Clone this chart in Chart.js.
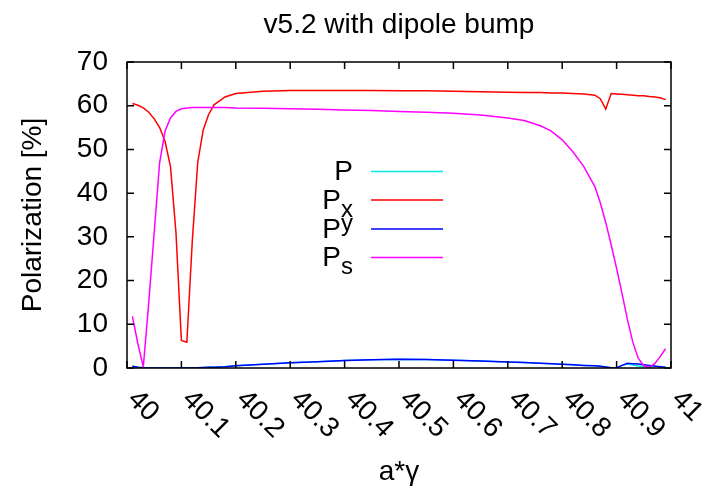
<!DOCTYPE html>
<html>
<head>
<meta charset="utf-8">
<script src="https://cdn.jsdelivr.net/npm/chart.js@4.4.1/dist/chart.umd.min.js"></script>
<style>
  html, body { margin: 0; padding: 0; background: #ffffff; }
  #grafica { display: block; }
</style>
</head>
<body>
<canvas id="grafica" width="702" height="490"></canvas>
<script>
const aGamma = [40.01, 40.02, 40.03, 40.04, 40.05, 40.06, 40.07, 40.08, 40.09, 40.10,
  40.11, 40.12, 40.13, 40.14, 40.15, 40.16, 40.18, 40.20, 40.25, 40.30,
  40.35, 40.40, 40.45, 40.50, 40.55, 40.60, 40.65, 40.70, 40.73, 40.76,
  40.78, 40.80, 40.82, 40.84, 40.86, 40.87, 40.88, 40.89, 40.90, 40.91,
  40.92, 40.93, 40.94, 40.95, 40.96, 40.97, 40.98, 40.99];

const polP = [0.4, 0.2, 0.05, 0, 0, 0, 0, 0, 0, 0,
  0.02, 0.04, 0.06, 0.1, 0.15, 0.2, 0.3, 0.5, 0.85, 1.2,
  1.45, 1.7, 1.9, 2.0, 1.95, 1.8, 1.6, 1.4, 1.25, 1.1,
  1.0, 0.85, 0.75, 0.6, 0.5, 0.4, 0.25, 0.05, 0.0, 0.6,
  0.9, 0.7, 0.45, 0.3, 0.35, 0.35, 0.25, 0.15];

const polPx = [60.5, 60.1, 59.5, 58.5, 57.0, 55.0, 51.8, 46.0, 31.0, 6.3,
  5.9, 29.0, 47.0, 54.4, 58.0, 60.2, 62.0, 62.8, 63.3, 63.5,
  63.5, 63.5, 63.5, 63.4, 63.4, 63.3, 63.2, 63.1, 63.0, 63.0,
  62.9, 62.9, 62.8, 62.7, 62.4, 61.6, 59.2, 62.8, 62.7, 62.6,
  62.5, 62.4, 62.3, 62.3, 62.1, 62.0, 61.8, 61.4];

const polPy = [0.4, 0.2, 0.05, 0, 0, 0, 0, 0, 0, 0,
  0.02, 0.04, 0.06, 0.1, 0.15, 0.2, 0.3, 0.5, 0.85, 1.2,
  1.45, 1.7, 1.9, 2.0, 1.95, 1.8, 1.6, 1.4, 1.25, 1.1,
  1.0, 0.85, 0.75, 0.6, 0.5, 0.4, 0.25, 0.05, 0.0, 0.6,
  1.1, 1.0, 0.9, 0.75, 0.6, 0.45, 0.3, 0.15];

const polPs = [11.8, 5.5, 0.3, 15.0, 31.0, 47.0, 54.2, 57.2, 58.7, 59.3,
  59.5, 59.6, 59.6, 59.6, 59.6, 59.6, 59.6, 59.5, 59.4, 59.3,
  59.2, 59.0, 58.9, 58.7, 58.5, 58.3, 57.9, 57.2, 56.6, 55.4,
  54.2, 52.2, 49.4, 46.0, 41.5, 37.8, 33.3, 28.2, 22.8, 17.0,
  11.0, 5.8, 2.2, 0.5, 0.1, 1.0, 2.6, 4.4];

const xTickValues = [40, 40.1, 40.2, 40.3, 40.4, 40.5, 40.6, 40.7, 40.8, 40.9, 41];
const xTickLabels = ['40', '40.1', '40.2', '40.3', '40.4', '40.5', '40.6', '40.7', '40.8', '40.9', '41'];
const yTickValues = [0, 10, 20, 30, 40, 50, 60, 70];

// legend text: main letter + index, index shifted up (-) or down (+)
const legendNames = [
  { main: 'P', sub: '', shift: 0 },
  { main: 'P', sub: 'x', shift: 6 },
  { main: 'P', sub: 'y', shift: -9 },
  { main: 'P', sub: 's', shift: 6 }
];

const FONT = '"Liberation Sans", Arial, sans-serif';
const graphic = document.getElementById('grafica');

function toPoints(values) {
  return values.map((v, i) => ({ x: aGamma[i], y: v }));
}

function makeSet(label, values, color, order) {
  return {
    label: label,
    data: toPoints(values),
    borderColor: color,
    borderWidth: 1.5,
    pointRadius: 0,
    fill: false,
    tension: 0,
    order: order
  };
}

// frame, inward ticks, rotated x labels, titles, legend
const gnuplotLook = {
  id: 'gnuplotLook',
  afterDraw(chart) {
    const ctx = chart.ctx;
    const area = chart.chartArea;
    const xs = chart.scales.x;
    const ys = chart.scales.y;
    const tick = 7;
    ctx.save();
    ctx.strokeStyle = '#000000';
    ctx.lineWidth = 1.5;
    ctx.strokeRect(area.left, area.top, area.right - area.left, area.bottom - area.top);
    ctx.beginPath();
    xTickValues.forEach(v => {
      const px = xs.getPixelForValue(v);
      ctx.moveTo(px, area.bottom); ctx.lineTo(px, area.bottom - tick);
      ctx.moveTo(px, area.top); ctx.lineTo(px, area.top + tick);
    });
    yTickValues.forEach(v => {
      const py = ys.getPixelForValue(v);
      ctx.moveTo(area.left, py); ctx.lineTo(area.left + tick, py);
      ctx.moveTo(area.right, py); ctx.lineTo(area.right - tick, py);
    });
    ctx.stroke();

    ctx.fillStyle = '#000000';
    ctx.font = '28px ' + FONT;
    // x tick labels rotated -45 (reading down to the right)
    xTickValues.forEach((v, i) => {
      const px = xs.getPixelForValue(v);
      ctx.save();
      ctx.translate(px + 5, area.bottom + 27);
      ctx.rotate(Math.PI / 4);
      ctx.textAlign = 'left';
      ctx.textBaseline = 'middle';
      ctx.fillText(xTickLabels[i], 0, 0);
      ctx.restore();
    });

    const midX = (area.left + area.right) / 2;
    const midY = (area.top + area.bottom) / 2;
    ctx.textAlign = 'center';
    ctx.textBaseline = 'alphabetic';
    ctx.fillText('v5.2 with dipole bump', midX, 33);
    ctx.fillText('a*\u03b3', midX, 480);
    ctx.save();
    ctx.translate(41, midY);
    ctx.rotate(-Math.PI / 2);
    ctx.fillText('Polarization [%]', 0, 0);
    ctx.restore();

    // legend
    const rows = [171.5, 200, 229, 257.5];
    chart.data.datasets.forEach((ds, i) => {
      const name = legendNames[i];
      const y = rows[i];
      const right = 353;
      ctx.textAlign = 'right';
      ctx.textBaseline = 'middle';
      let mainRight = right;
      if (name.sub) {
        ctx.font = '24px ' + FONT;
        ctx.fillText(name.sub, right, y + name.shift + 4);
        mainRight = right - ctx.measureText(name.sub).width;
      }
      ctx.font = '28px ' + FONT;
      ctx.fillText(name.main, mainRight, y + 1);
      ctx.strokeStyle = ds.borderColor;
      ctx.lineWidth = 1.5;
      ctx.beginPath();
      ctx.moveTo(371, y);
      ctx.lineTo(443, y);
      ctx.stroke();
    });
    ctx.restore();
  }
};

const chart = new Chart(graphic, {
  type: 'line',
  data: {
    datasets: [
      makeSet('P', polP, '#00e8e8', 4),
      makeSet('Px', polPx, '#ff0000', 3),
      makeSet('Py', polPy, '#0000ff', 2),
      makeSet('Ps', polPs, '#ff00ff', 1)
    ]
  },
  options: {
    responsive: false,
    devicePixelRatio: 1,
    animation: false,
    layout: { padding: { left: 0, top: 62, right: 31, bottom: 0 } },
    plugins: {
      legend: { display: false },
      tooltip: { enabled: false },
      title: { display: false }
    },
    scales: {
      x: {
        type: 'linear',
        min: 40,
        max: 41,
        grid: { display: false, drawTicks: false },
        border: { display: false },
        ticks: { display: false, stepSize: 0.1 },
        afterFit: (scale) => { scale.height = 490 - 368; }
      },
      y: {
        min: 0,
        max: 70,
        grid: { display: false, drawTicks: false },
        border: { display: false },
        ticks: {
          stepSize: 10,
          padding: 19,
          color: '#000000',
          font: { family: FONT, size: 28 }
        },
        afterFit: (scale) => { scale.width = 127; }
      }
    }
  },
  plugins: [gnuplotLook]
});
</script>
</body>
</html>
